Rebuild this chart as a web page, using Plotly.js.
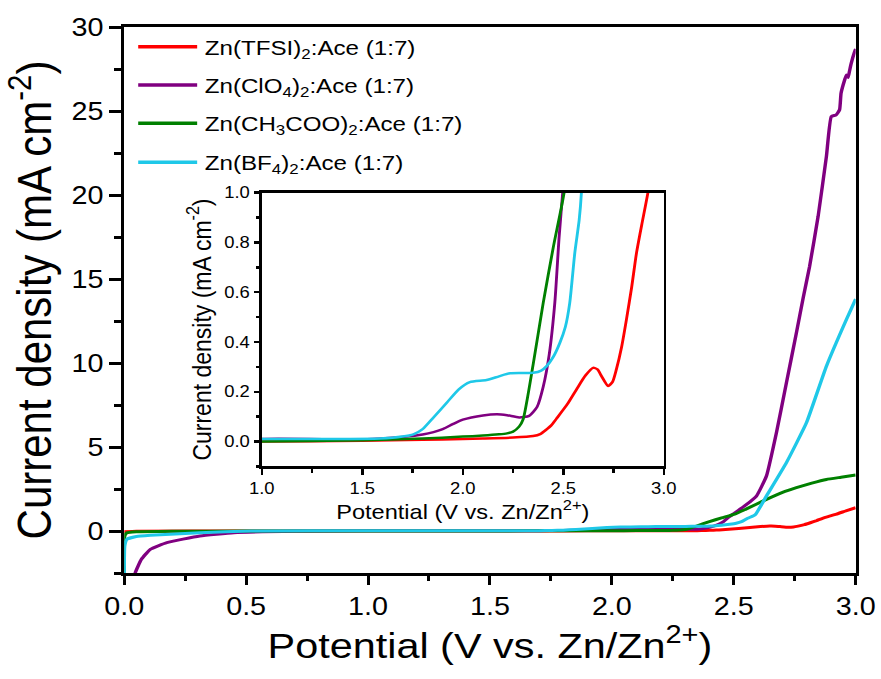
<!DOCTYPE html>
<html>
<head>
<meta charset="utf-8">
<script src="https://cdn.plot.ly/plotly-3.0.1.min.js"></script>
<style>
  html, body { margin: 0; padding: 0; background: #fff; overflow: hidden; }
  #wrap { width: 881px; height: 679px; overflow: hidden; }
  #chart { width: 766px; height: 679px; transform: scaleX(1.1501); transform-origin: 0 0; }
</style>
</head>
<body>
<div id="wrap"><div id="chart"></div></div>
<script>
// ---- data ----
const seriesNames = [
  'Zn(TFSI)<sub>2</sub>:Ace (1:7)',
  'Zn(ClO<sub>4</sub>)<sub>2</sub>:Ace (1:7)',
  'Zn(CH<sub>3</sub>COO)<sub>2</sub>:Ace (1:7)',
  'Zn(BF<sub>4</sub>)<sub>2</sub>:Ace (1:7)'
];
const seriesColors = ['#FF0000', '#800080', '#008000', '#1FC8E8'];

const tfsiX = [0, 0.05, 0.5, 1.0, 1.5, 1.8, 2.0, 2.1, 2.25, 2.35, 2.385, 2.417, 2.44, 2.466, 2.52, 2.566, 2.61, 2.648, 2.67, 2.69, 2.723, 2.745, 2.764, 2.79, 2.814, 2.84, 2.864, 2.89, 2.921, 2.96, 3.0];
const tfsiY = [-0.05, -0.02, 0, 0.0, 0.003, 0.007, 0.01, 0.012, 0.016, 0.022, 0.03, 0.049, 0.065, 0.092, 0.15, 0.21, 0.265, 0.296, 0.29, 0.263, 0.223, 0.24, 0.29, 0.38, 0.49, 0.62, 0.757, 0.87, 1.0, 1.2, 1.39];

const clo4X = [0.03, 0.045, 0.07, 0.107, 0.175, 0.31, 0.45, 0.7, 1.0, 1.5, 1.7, 1.8, 1.9, 1.95, 2.0, 2.1, 2.17, 2.22, 2.28, 2.33, 2.37, 2.40, 2.43, 2.458, 2.479, 2.497, 2.55, 2.593, 2.634, 2.675, 2.716, 2.757, 2.785, 2.811, 2.846, 2.88, 2.90, 2.92, 2.934, 2.94, 2.955, 2.962, 2.969, 2.975, 2.982, 2.996, 3.0];
const clo4Y = [-4, -2.5, -1.7, -1.09, -0.69, -0.30, -0.1, -0.02, 0.01, 0.008, 0.018, 0.028, 0.05, 0.07, 0.088, 0.105, 0.11, 0.106, 0.097, 0.103, 0.14, 0.22, 0.35, 0.56, 0.82, 1.0, 1.55, 2.08, 3.27, 5.85, 8.82, 11.8, 13.9, 15.75, 18.73, 22.3, 24.67, 24.77, 25.07, 26.06, 26.86, 27.15, 27.0, 27.4, 27.85, 28.54, 28.7];

const acetX = [0, 0.002, 0.01, 0.05, 0.2, 0.5, 1.0, 1.5, 1.8, 2.0, 2.1, 2.18, 2.22, 2.25, 2.28, 2.30, 2.35, 2.40, 2.45, 2.504, 2.55, 2.634, 2.70, 2.757, 2.82, 2.88, 2.94, 3.0];
const acetY = [-3, -0.3, -0.12, -0.05, -0.02, 0, 0.0, 0.005, 0.012, 0.02, 0.024, 0.029, 0.033, 0.04, 0.06, 0.089, 0.31, 0.557, 0.78, 1.0, 1.3, 1.88, 2.3, 2.58, 2.85, 3.07, 3.2, 3.33];

const bf4X = [0, 0.002, 0.011, 0.05, 0.107, 0.31, 0.52, 1.0, 1.3, 1.588, 1.7, 1.754, 1.8, 1.853, 1.92, 1.98, 2.035, 2.118, 2.18, 2.234, 2.30, 2.35, 2.39, 2.417, 2.45, 2.483, 2.51, 2.532, 2.557, 2.579, 2.59, 2.634, 2.716, 2.798, 2.88, 2.962, 3.0];
const bf4Y = [-3, -0.9, -0.49, -0.33, -0.26, -0.1, 0, 0.01, 0.01, 0.012, 0.02, 0.029, 0.05, 0.096, 0.156, 0.21, 0.239, 0.247, 0.262, 0.274, 0.275, 0.276, 0.285, 0.303, 0.34, 0.397, 0.46, 0.557, 0.757, 0.89, 1.0, 2.08, 4.07, 6.44, 9.81, 12.59, 13.8];

const seriesX = [tfsiX, clo4X, acetX, bf4X];
const seriesY = [tfsiY, clo4Y, acetY, bf4Y];

const mainXTitle = 'Potential (V vs. Zn/Zn<sup>2+</sup>)';
const mainYTitle = 'Current density (mA cm<sup>-2</sup>)';

// ---- geometry (plot coordinates before the horizontal stretch) ----
const S = 881 / 766;
const W = 766, H = 679;
const mL = 124 / S, mR = W - 856 / S, mT = 27, mB = H - 573.3;
const pw = W - mL - mR, ph = H - mT - mB;
const px = (ix) => (ix / S - mL) / pw;      // image x -> paper x
const py = (iy) => (H - mB - iy) / ph;      // image y -> paper y

const FONT = 'Liberation Sans, Arial, Helvetica, sans-serif';

const traces = [];
for (let i = 0; i < 4; i++) {
  traces.push({
    x: seriesX[i], y: seriesY[i], type: 'scatter', mode: 'lines',
    name: seriesNames[i], showlegend: false, hoverinfo: 'skip',
    line: { color: seriesColors[i], width: 3, shape: 'spline', smoothing: 0.4 },
    xaxis: 'x', yaxis: 'y'
  });
}
for (let i = 0; i < 4; i++) {
  traces.push({
    x: seriesX[i], y: seriesY[i], type: 'scatter', mode: 'lines',
    name: seriesNames[i], showlegend: false, hoverinfo: 'skip',
    line: { color: seriesColors[i], width: 2.5, shape: 'spline', smoothing: 0.6 },
    xaxis: 'x2', yaxis: 'y2'
  });
}

// manual legend (long line samples)
const legRowsY = [46.7, 85, 123.3, 162.3];
const shapes = [], annotations = [];
for (let i = 0; i < 4; i++) {
  shapes.push({
    type: 'line', xref: 'paper', yref: 'paper',
    x0: px(138), x1: px(197), y0: py(legRowsY[i]), y1: py(legRowsY[i]),
    line: { color: seriesColors[i], width: 3.5 }
  });
  annotations.push({
    xref: 'paper', yref: 'paper', x: px(202), y: py(legRowsY[i] + 2),
    xanchor: 'left', yanchor: 'middle', showarrow: false,
    text: seriesNames[i], font: { family: FONT, size: 21, color: '#000' }
  });
}

const layout = {
  width: W, height: H,
  margin: { l: mL, r: mR, t: mT, b: mB, pad: 0 },
  paper_bgcolor: '#fff', plot_bgcolor: '#fff',
  font: { family: FONT, color: '#000' },
  showlegend: false,
  xaxis: {
    range: [0, 3], domain: [0, 1], anchor: 'y',
    showline: true, linewidth: 3, linecolor: '#000', mirror: true,
    ticks: 'outside', ticklen: 9, tickwidth: 2.6, tickcolor: '#000',
    tick0: 0, dtick: 0.5, tickformat: '.1f',
    minor: { ticks: 'outside', dtick: 0.25, ticklen: 5, tickwidth: 2.6, tickcolor: '#000', showgrid: false },
    showgrid: false, zeroline: false,
    tickfont: { family: FONT, size: 25, color: '#000' },
    title: { text: mainXTitle, font: { family: FONT, size: 36, color: '#000' }, standoff: 14 }
  },
  yaxis: {
    range: [-2.5, 30], domain: [0, 1], anchor: 'x',
    showline: true, linewidth: 2.6, linecolor: '#000', mirror: true,
    ticks: 'outside', ticklen: 10.5, tickwidth: 3, tickcolor: '#000',
    tick0: 0, dtick: 5,
    minor: { ticks: 'outside', dtick: 2.5, ticklen: 6, tickwidth: 3, tickcolor: '#000', showgrid: false },
    showgrid: false, zeroline: false,
    tickfont: { family: FONT, size: 25, color: '#000' },
    title: { text: mainYTitle, font: { family: FONT, size: 42, color: '#000' }, standoff: 8 }
  },
  xaxis2: {
    range: [1, 3], domain: [px(261.7), px(664)], anchor: 'y2',
    showline: true, linewidth: 2.5, linecolor: '#000', mirror: true,
    ticks: 'outside', ticklen: 6, tickwidth: 2.2, tickcolor: '#000',
    tick0: 1, dtick: 0.5, tickformat: '.1f',
    minor: { ticks: 'outside', dtick: 0.25, ticklen: 4, tickwidth: 2.2, tickcolor: '#000', showgrid: false },
    showgrid: false, zeroline: false,
    tickfont: { family: FONT, size: 16, color: '#000' },
    title: { text: mainXTitle, font: { family: FONT, size: 20.5, color: '#000' }, standoff: 6 }
  },
  yaxis2: {
    range: [-0.1, 1.0], domain: [py(466.7), py(192.7)], anchor: 'x2',
    showline: true, linewidth: 2.2, linecolor: '#000', mirror: true,
    ticks: 'outside', ticklen: 5, tickwidth: 2.5, tickcolor: '#000',
    tick0: 0, dtick: 0.2, tickformat: '.1f',
    minor: { ticks: 'outside', dtick: 0.1, ticklen: 3, tickwidth: 2.5, tickcolor: '#000', showgrid: false },
    showgrid: false, zeroline: false,
    tickfont: { family: FONT, size: 16, color: '#000' },
    title: { text: mainYTitle, font: { family: FONT, size: 23, color: '#000' }, standoff: 5 }
  },
  shapes: shapes,
  annotations: annotations
};

Plotly.newPlot('chart', traces, layout, { staticPlot: true, displayModeBar: false });
</script>
</body>
</html>
